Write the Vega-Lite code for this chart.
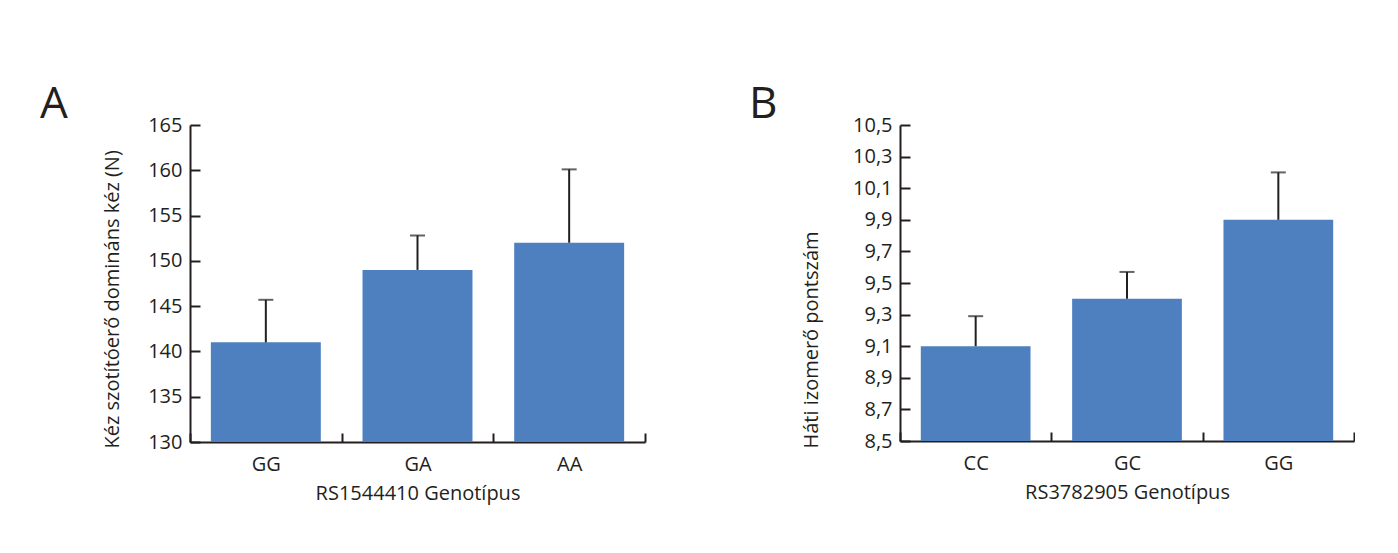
{
  "$schema": "https://vega.github.io/schema/vega-lite/v6.json",
  "padding": {"left": 40, "top": 83, "right": 0, "bottom": 10},
  "background": "white",
  "bounds": "flush",
  "spacing": 255,
  "datasets": {
    "a": [
      {"geno": "GG", "mean": 141, "upper": 145.7},
      {"geno": "GA", "mean": 149, "upper": 152.8},
      {"geno": "AA", "mean": 152, "upper": 160.1}
    ],
    "b": [
      {"geno": "CC", "mean": 9.1, "upper": 9.29},
      {"geno": "GC", "mean": 9.4, "upper": 9.57},
      {"geno": "GG", "mean": 9.9, "upper": 10.2}
    ]
  },
  "hconcat": [
    {
      "width": 455,
      "height": 317,
      "data": {"name": "a"},
      "title": {"text": "A", "anchor": "start", "frame": "group", "dx": -150, "dy": 12, "fontSize": 44, "fontWeight": "normal", "color": "#231f20", "offset": 0},
      "encoding": {
        "x": {"field": "geno", "type": "nominal", "sort": null,
          "scale": {"paddingInner": 0, "paddingOuter": 0},
          "axis": {"title": "RS1544410 Genotípus", "titlePadding": 9}}
      },
      "layer": [
        {"mark": {"type": "bar", "color": "#4e80c0", "width": {"band": 0.725}},
          "encoding": {
            "y": {"field": "mean", "type": "quantitative",
              "scale": {"domain": [130, 165], "zero": false, "nice": false},
              "axis": {"title": "Kéz szotítóerő domináns kéz (N)", "values": [130, 135, 140, 145, 150, 155, 160, 165], "tickCount": 20, "format": "d", "labelOverlap": false, "titlePadding": 25, "titleAlign": "left", "titleY": 323}},
            "y2": {"datum": 130}
          }},
        {"mark": {"type": "rule", "color": "#231f20", "strokeWidth": 2},
          "encoding": {"y": {"field": "mean", "type": "quantitative"}, "y2": {"field": "upper"}}},
        {"mark": {"type": "tick", "color": "#231f20", "thickness": 2, "size": 15, "orient": "horizontal"},
          "encoding": {"y": {"field": "upper", "type": "quantitative"}}}
      ]
    },
    {
      "width": 454,
      "height": 316,
      "data": {"name": "b"},
      "title": {"text": "B", "anchor": "start", "frame": "group", "dx": -151, "dy": 12, "fontSize": 44, "fontWeight": "normal", "color": "#231f20", "offset": 0},
      "encoding": {
        "x": {"field": "geno", "type": "nominal", "sort": null,
          "scale": {"paddingInner": 0, "paddingOuter": 0},
          "axis": {"title": "RS3782905 Genotípus", "titlePadding": 9}}
      },
      "layer": [
        {"mark": {"type": "bar", "color": "#4e80c0", "width": {"band": 0.725}},
          "encoding": {
            "y": {"field": "mean", "type": "quantitative",
              "scale": {"domain": [8.5, 10.5], "zero": false, "nice": false},
              "axis": {"title": "Háti izomerő pontszám", "values": [8.5, 8.7, 8.9, 9.1, 9.3, 9.5, 9.7, 9.9, 10.1, 10.3, 10.5], "tickCount": 20, "format": ".1f", "labelOverlap": false, "titlePadding": 31, "titleAlign": "left", "titleY": 323}},
            "y2": {"datum": 8.5}
          }},
        {"mark": {"type": "rule", "color": "#231f20", "strokeWidth": 2},
          "encoding": {"y": {"field": "mean", "type": "quantitative"}, "y2": {"field": "upper"}}},
        {"mark": {"type": "tick", "color": "#231f20", "thickness": 2, "size": 15, "orient": "horizontal"},
          "encoding": {"y": {"field": "upper", "type": "quantitative"}}}
      ]
    }
  ],
  "config": {
    "font": "Open Sans",
    "locale": {"number": {"decimal": ",", "thousands": ".", "grouping": [3], "currency": ["", ""]}},
    "view": {"stroke": null},
    "axis": {
      "labelFont": "Open Sans", "labelFontSize": 20, "labelColor": "#231f20",
      "titleFont": "Open Sans", "titleFontSize": 20, "titleFontWeight": "normal", "titleColor": "#231f20",
      "domainColor": "#231f20", "domainWidth": 2, "tickColor": "#231f20", "tickWidth": 2,
      "grid": false, "labelOverlap": false
    },
    "axisX": {"labelAngle": 0, "tickSize": -9, "tickBand": "extent", "labelPadding": 21},
    "axisY": {"tickSize": -10, "labelPadding": 18}
  }
}
